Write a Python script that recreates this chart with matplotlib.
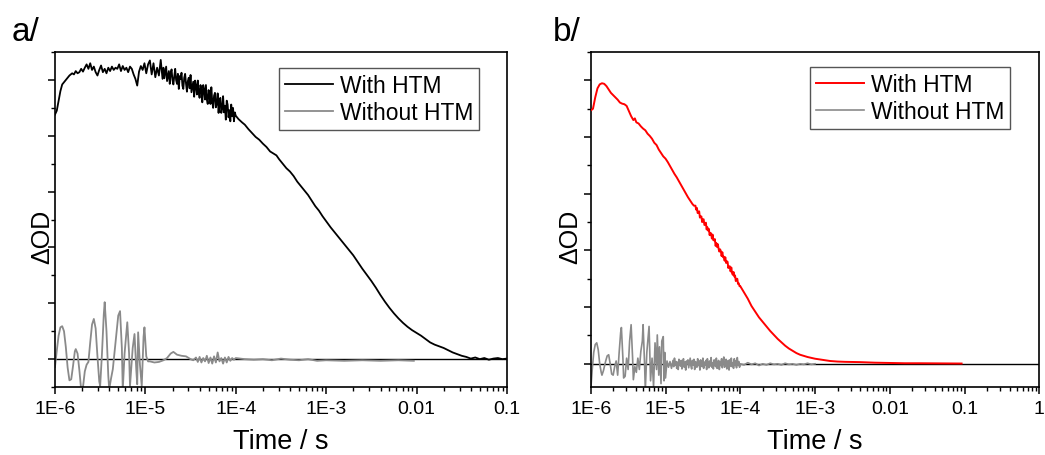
import matplotlib
matplotlib.use("Agg")
import matplotlib.pyplot as plt
from matplotlib.ticker import LogLocator, MultipleLocator, NullFormatter

plt.rcParams['font.family'] = ['Liberation Sans', 'DejaVu Sans']

# ---- panel a: log10(time / s) and dOD (arb. units) ----
a_with_logt = [
    -6.00, -5.98, -5.96, -5.94, -5.92, -5.90, -5.87, -5.84, -5.81, -5.79, -5.77, -5.75, -5.73, -5.71,
    -5.69, -5.67, -5.65, -5.63, -5.61, -5.59, -5.57, -5.55, -5.53, -5.51, -5.49, -5.47, -5.45, -5.43,
    -5.41, -5.39, -5.37, -5.35, -5.33, -5.31, -5.29, -5.27, -5.25, -5.23, -5.21, -5.19, -5.17, -5.15,
    -5.13, -5.11, -5.09, -5.07, -5.05, -5.03, -5.01, -4.99, -4.97, -4.95, -4.93, -4.91, -4.89, -4.87,
    -4.85, -4.83, -4.81,
    -4.80, -4.79, -4.78, -4.77, -4.76, -4.75, -4.74, -4.73, -4.72, -4.71, -4.70, -4.69, -4.68, -4.67,
    -4.66, -4.65, -4.64, -4.63, -4.62, -4.61, -4.60, -4.59, -4.58, -4.57, -4.56, -4.55, -4.54, -4.53,
    -4.52, -4.51, -4.50, -4.49, -4.48, -4.47, -4.46, -4.45, -4.44, -4.43, -4.42, -4.41, -4.40, -4.39,
    -4.38, -4.37, -4.36, -4.35, -4.34, -4.33, -4.32, -4.31, -4.30, -4.29, -4.28, -4.27, -4.26, -4.25,
    -4.24, -4.23, -4.22, -4.21, -4.20, -4.19, -4.18, -4.17, -4.16, -4.15, -4.14, -4.13, -4.12, -4.11,
    -4.10, -4.09, -4.08, -4.07, -4.06, -4.05, -4.04, -4.03, -4.02, -4.01, -4.00,
    -3.97, -3.93, -3.90, -3.86, -3.82, -3.78, -3.74, -3.70, -3.66, -3.62, -3.58, -3.55, -3.52, -3.48,
    -3.44, -3.40, -3.36, -3.32, -3.28, -3.24, -3.20, -3.16, -3.12, -3.08, -3.04, -3.00, -2.95, -2.90,
    -2.85, -2.80, -2.75, -2.70, -2.65, -2.60, -2.55, -2.50, -2.45, -2.40, -2.35, -2.30, -2.25, -2.20,
    -2.15, -2.10, -2.05, -2.00, -1.95, -1.90, -1.85, -1.80, -1.75, -1.70, -1.65, -1.60, -1.55, -1.50,
    -1.45, -1.40, -1.35, -1.30, -1.25, -1.20, -1.15, -1.10, -1.05, -1.00,
]
a_with_val = [
    4.38, 4.45, 4.62, 4.80, 4.92, 4.96, 5.02, 5.08, 5.12, 5.10, 5.16, 5.12, 5.14, 5.20,
    5.15, 5.22, 5.28, 5.20, 5.30, 5.18, 5.24, 5.14, 5.08, 5.18, 5.26, 5.14, 5.20, 5.12,
    5.22, 5.16, 5.24, 5.18, 5.22, 5.20, 5.28, 5.16, 5.25, 5.18, 5.22, 5.14, 5.24, 5.20,
    5.10, 5.02, 4.90, 5.15, 5.25, 5.18, 5.30, 5.12, 5.28, 5.35, 5.10, 5.30, 5.05, 5.22,
    5.08, 5.36, 5.02,
    5.22, 5.03, 5.14, 5.24, 4.98, 5.07, 5.16, 4.93, 5.12, 5.19, 5.00, 4.92, 5.07, 5.20,
    5.00, 4.93, 5.11, 4.84, 5.07, 5.02, 5.13, 4.90, 4.84, 5.04, 5.11, 4.93, 4.79, 4.98,
    5.04, 4.85, 5.09, 4.78, 4.88, 4.97, 4.70, 4.99, 4.89, 4.74, 4.99, 4.78, 4.68, 4.91,
    4.82, 4.60, 4.91, 4.83, 4.65, 4.91, 4.65, 4.57, 4.82, 4.71, 4.57, 4.87, 4.61, 4.50,
    4.72, 4.77, 4.51, 4.58, 4.76, 4.41, 4.65, 4.68, 4.41, 4.49, 4.71, 4.42, 4.54, 4.29,
    4.63, 4.56, 4.33, 4.46, 4.26, 4.56, 4.35, 4.50, 4.26, 4.42, 4.36,
    4.30, 4.24, 4.20, 4.12, 4.05, 3.98, 3.93, 3.86, 3.80, 3.72, 3.68, 3.65, 3.58, 3.50,
    3.42, 3.36, 3.28, 3.18, 3.10, 3.02, 2.94, 2.84, 2.74, 2.66, 2.56, 2.47, 2.36, 2.26,
    2.16, 2.06, 1.96, 1.86, 1.74, 1.62, 1.51, 1.40, 1.28, 1.15, 1.03, 0.92, 0.82, 0.73,
    0.65, 0.58, 0.52, 0.47, 0.42, 0.36, 0.30, 0.26, 0.23, 0.20, 0.16, 0.12, 0.09, 0.06,
    0.04, 0.01, 0.03, 0.00, 0.02, -0.01, 0.01, 0.02, 0.00, 0.01,
]

a_without_logt = [
    -6.00, -5.98, -5.96, -5.94, -5.92, -5.90, -5.88, -5.86, -5.84, -5.82, -5.80, -5.78, -5.77, -5.75,
    -5.73, -5.71, -5.69, -5.67, -5.65, -5.63, -5.61, -5.59, -5.57, -5.55, -5.53, -5.51, -5.50, -5.48,
    -5.46, -5.45, -5.43, -5.41, -5.40, -5.38, -5.36, -5.33, -5.30, -5.28, -5.26, -5.25, -5.23, -5.20,
    -5.18, -5.17, -5.14, -5.12, -5.10, -5.09, -5.08, -5.06, -5.04, -5.02, -5.01, -4.99, -4.97,
    -4.95, -4.90, -4.85, -4.80, -4.76, -4.72, -4.69, -4.65, -4.60, -4.55, -4.50, -4.47, -4.44, -4.42,
    -4.40, -4.38, -4.36, -4.34, -4.32, -4.30, -4.28, -4.26, -4.24, -4.22, -4.20, -4.18, -4.16, -4.14,
    -4.12, -4.10, -4.08, -4.06, -4.04, -4.02, -4.00, -3.90, -3.80, -3.70, -3.60, -3.50, -3.40, -3.30,
    -3.20, -3.10, -3.00, -2.80, -2.60, -2.40, -2.20, -2.03,
]
a_without_val = [
    -0.14, 0.15, 0.42, 0.57, 0.59, 0.50, 0.22, -0.15, -0.38, -0.36, -0.12, 0.14, 0.18, 0.10,
    -0.20, -0.55, -0.50, -0.22, -0.10, -0.05, 0.30, 0.62, 0.72, 0.55, 0.05, -0.40, -0.48, 0.10,
    0.80, 1.02, 0.50, -0.30, -0.54, -0.35, -0.18, 0.30, 0.78, 0.86, 0.20, -0.55, 0.10, 0.66,
    0.10, -0.48, 0.20, 0.45, -0.20, -0.45, 0.48, -0.10, -0.48, 0.40, 0.57, 0.05, -0.04,
    -0.04, -0.06, -0.05, -0.02, 0.02, 0.10, 0.13, 0.08, 0.06, 0.05, 0.00, -0.02, 0.03, -0.05,
    0.04, -0.06, 0.02, -0.04, 0.06, -0.07, 0.03, -0.08, 0.05, -0.06, 0.12, -0.04, 0.02, -0.08,
    0.03, -0.06, 0.04, -0.03, 0.02, -0.01, 0.02, 0.00, -0.01, 0.00, -0.02, 0.01, -0.01, -0.02,
    0.00, -0.03, -0.02, -0.03, -0.02, -0.03, -0.02, -0.03,
]

# ---- panel b ----
b_with_logt = [
    -6.00, -5.97, -5.94, -5.91, -5.88, -5.85, -5.82, -5.79, -5.76, -5.73, -5.70, -5.67, -5.64, -5.61,
    -5.58, -5.55, -5.52, -5.49, -5.46, -5.43, -5.41, -5.39, -5.36, -5.33, -5.30, -5.27, -5.24, -5.21,
    -5.18, -5.15, -5.12, -5.09, -5.06, -5.03, -5.00, -4.97, -4.94, -4.91, -4.88, -4.85, -4.82, -4.79,
    -4.76, -4.73, -4.70, -4.67, -4.64, -4.62,
    -4.60, -4.59, -4.58, -4.57, -4.56, -4.55, -4.54, -4.53, -4.52, -4.51, -4.50, -4.49, -4.48, -4.47,
    -4.46, -4.45, -4.44, -4.43, -4.42, -4.41, -4.40, -4.39, -4.38, -4.37, -4.36, -4.35, -4.34, -4.33,
    -4.32, -4.31, -4.30, -4.29, -4.28, -4.27, -4.26, -4.25, -4.24, -4.23, -4.22, -4.21, -4.20, -4.19,
    -4.18, -4.17, -4.16, -4.15, -4.14, -4.13, -4.12, -4.11, -4.10, -4.09, -4.08, -4.07, -4.06, -4.05,
    -4.04, -4.03, -4.02, -4.01, -4.00,
    -3.95, -3.90, -3.85, -3.80, -3.75, -3.70, -3.65, -3.60, -3.55, -3.50, -3.45, -3.40, -3.35, -3.30,
    -3.25, -3.20, -3.10, -3.00, -2.90, -2.80, -2.70, -2.60, -2.40, -2.20, -2.00, -1.80, -1.60, -1.40,
    -1.20, -1.04,
]
b_with_val = [
    4.47, 4.50, 4.70, 4.86, 4.93, 4.95, 4.94, 4.90, 4.84, 4.78, 4.74, 4.70, 4.66, 4.61,
    4.59, 4.58, 4.55, 4.46, 4.37, 4.30, 4.33, 4.26, 4.24, 4.19, 4.15, 4.12, 4.06, 4.02,
    3.97, 3.90, 3.86, 3.78, 3.72, 3.66, 3.62, 3.56, 3.49, 3.42, 3.35, 3.29, 3.22, 3.15,
    3.08, 3.01, 2.94, 2.88, 2.82, 2.79,
    2.79, 2.72, 2.75, 2.66, 2.68, 2.69, 2.58, 2.60, 2.60, 2.50, 2.55, 2.55, 2.45, 2.45,
    2.49, 2.37, 2.41, 2.35, 2.38, 2.27, 2.31, 2.30, 2.21, 2.28, 2.18, 2.18, 2.20, 2.08,
    2.13, 2.06, 2.11, 2.03, 1.98, 2.02, 1.99, 1.90, 1.97, 1.88, 1.89, 1.82, 1.88, 1.78,
    1.81, 1.80, 1.69, 1.72, 1.72, 1.63, 1.70, 1.60, 1.57, 1.62, 1.54, 1.56, 1.46, 1.50,
    1.50, 1.41, 1.42, 1.37, 1.37,
    1.26, 1.15, 1.02, 0.92, 0.82, 0.74, 0.66, 0.58, 0.51, 0.44, 0.38, 0.32, 0.27, 0.23,
    0.19, 0.16, 0.12, 0.09, 0.07, 0.05, 0.04, 0.035, 0.03, 0.02, 0.015, 0.01, 0.01, 0.008,
    0.005, 0.005,
]

b_without_logt = [
    -6.00, -5.98, -5.96, -5.94, -5.92, -5.90, -5.88, -5.86, -5.85, -5.83, -5.80, -5.78, -5.76, -5.74,
    -5.72, -5.70, -5.68, -5.66, -5.64, -5.62, -5.60, -5.59, -5.57, -5.56, -5.54, -5.52, -5.50, -5.48,
    -5.46, -5.44, -5.43, -5.41, -5.39, -5.37, -5.35, -5.33, -5.31, -5.30, -5.28, -5.27, -5.25, -5.23,
    -5.22, -5.20, -5.18, -5.16, -5.14, -5.12, -5.11, -5.09, -5.08, -5.06, -5.05, -5.03, -5.02, -5.01,
    -5.00, -4.98, -4.96, -4.94, -4.92,
    -4.90, -4.89, -4.88, -4.87, -4.86, -4.85, -4.84, -4.83, -4.82, -4.81, -4.80, -4.79, -4.78, -4.77,
    -4.76, -4.75, -4.74, -4.73, -4.72, -4.71, -4.70, -4.69, -4.68, -4.67, -4.66, -4.65, -4.64, -4.63,
    -4.62, -4.61, -4.60, -4.59, -4.58, -4.57, -4.56, -4.55, -4.54, -4.53, -4.52, -4.51, -4.50, -4.49,
    -4.48, -4.47, -4.46, -4.45, -4.44, -4.43, -4.42, -4.41, -4.40, -4.39, -4.38, -4.37, -4.36, -4.35,
    -4.34, -4.33, -4.32, -4.31, -4.30, -4.29, -4.28, -4.27, -4.26, -4.25, -4.24, -4.23, -4.22, -4.21,
    -4.20, -4.19, -4.18, -4.17, -4.16, -4.15, -4.14, -4.13, -4.12, -4.11, -4.10, -4.09, -4.08, -4.07,
    -4.06, -4.05, -4.04, -4.03, -4.02, -4.01, -4.00,
    -3.95, -3.90, -3.85, -3.80, -3.75, -3.70, -3.65, -3.60, -3.55, -3.50, -3.45, -3.40, -3.35, -3.30,
    -3.25, -3.20, -3.15, -3.10, -3.05, -3.00,
]
b_without_val = [
    -0.46, -0.10, 0.20, 0.34, 0.37, 0.25, 0.00, -0.15, -0.20, -0.12, 0.05, 0.14, 0.16, 0.00,
    -0.18, -0.20, -0.05, 0.05, -0.20, 0.20, 0.55, 0.64, 0.10, -0.25, -0.22, 0.10, -0.10, 0.40,
    0.69, 0.10, -0.28, -0.05, -0.15, 0.10, -0.10, 0.22, 0.40, 0.69, 0.00, -0.46, 0.20, 0.50,
    0.66, -0.30, 0.10, -0.40, 0.37, -0.10, 0.51, -0.20, 0.30, -0.35, 0.40, 0.48, -0.30, 0.20,
    -0.25, 0.05, -0.06, 0.04, -0.08,
    0.06, -0.05, 0.10, -0.02, 0.04, -0.08, 0.03, -0.10, 0.08, 0.01, -0.04, 0.06, -0.09, 0.02,
    0.09, -0.06, 0.03, -0.11, 0.05, 0.00, 0.07, -0.07, 0.02, 0.10, -0.04, -0.09, 0.06, -0.02,
    0.08, -0.10, 0.04, 0.01, -0.06, 0.09, -0.03, 0.05, -0.11, 0.07, 0.02, -0.05, 0.10, -0.08,
    0.03, -0.02, 0.06, -0.10, 0.09, 0.00, -0.07, 0.05, -0.04, 0.11, -0.06, 0.02, -0.09, 0.07,
    0.03, -0.05, 0.10, -0.08, 0.01, 0.06, -0.10, 0.04, -0.03, 0.09, -0.07, 0.05, 0.12, -0.06,
    -0.02, 0.08, -0.09, 0.03, 0.06, -0.11, 0.07, -0.04, 0.10, -0.05, 0.02, -0.08, 0.09, -0.03,
    0.05, -0.07, 0.11, -0.02, 0.04, -0.06, 0.00,
    -0.02, 0.02, -0.01, 0.01, -0.03, 0.00, -0.02, 0.01, -0.01, 0.00, -0.02, 0.01, -0.01, 0.00,
    -0.02, 0.00, -0.01, 0.01, -0.01, 0.00,
]

legend_labels = ["With HTM", "Without HTM"]
gray = "#8a8a8a"


def setup_axis(ax, xmax, ylo, yhi, tick_labels, ylabel_x):
    ax.set_xscale("log")
    ax.set_xlim(1e-6, xmax)
    ax.set_ylim(ylo, yhi)
    ax.axhline(0, color="black", lw=1.0, zorder=1)
    ax.xaxis.set_minor_locator(LogLocator(base=10, subs=range(2, 10), numticks=20))
    ax.xaxis.set_minor_formatter(NullFormatter())
    ax.set_xticks([10.0 ** k for k in range(-6, -6 + len(tick_labels))])
    ax.set_xticklabels(tick_labels)
    ax.yaxis.set_major_locator(MultipleLocator(1))
    ax.yaxis.set_minor_locator(MultipleLocator(0.5))
    ax.set_yticklabels([])
    ax.tick_params(which="major", direction="out", length=5, width=1.1, labelsize=14,
                   right=False, top=False, pad=4)
    ax.tick_params(which="minor", direction="out", length=3, width=1.0, right=False, top=False)
    for s in ax.spines.values():
        s.set_linewidth(1.2)
    ax.set_xlabel("Time / s", fontsize=19.5, labelpad=8)
    ax.set_ylabel("\u0394OD", fontsize=18)
    ax.yaxis.set_label_coords(ylabel_x, 0.45)


fig = plt.figure(figsize=(10.45, 4.56), dpi=100)
ax_a = fig.add_axes([0.0526, 0.149, 0.4325, 0.7346])
ax_b = fig.add_axes([0.5653, 0.149, 0.4293, 0.7346])

ta = [10.0 ** v for v in a_with_logt]
tna = [10.0 ** v for v in a_without_logt]
ax_a.plot(ta, a_with_val, color="black", lw=1.3, label=legend_labels[0], zorder=3)
ax_a.plot(tna, a_without_val, color=gray, lw=1.3, label=legend_labels[1], zorder=2)
setup_axis(ax_a, 0.1, -0.5, 5.5, ["1E-6", "1E-5", "1E-4", "1E-3", "0.01", "0.1"], -0.001)

tb = [10.0 ** v for v in b_with_logt]
tnb = [10.0 ** v for v in b_without_logt]
ax_b.plot(tb, b_with_val, color="#ff0000", lw=1.4, label=legend_labels[0], zorder=3)
ax_b.plot(tnb, b_without_val, color=gray, lw=1.2, label=legend_labels[1], zorder=2)
setup_axis(ax_b, 1.0, -0.41, 5.5, ["1E-6", "1E-5", "1E-4", "1E-3", "0.01", "0.1", "1"], -0.018)

for ax, anchor in [(ax_a, (0.938, 0.952)), (ax_b, (0.935, 0.956))]:
    leg = ax.legend(loc="upper right", bbox_to_anchor=anchor, fontsize=16.5, fancybox=False,
                    framealpha=1, edgecolor="#555555", handlelength=2.1, handletextpad=0.3,
                    labelspacing=0.2, borderpad=0.25, borderaxespad=0)
    leg.get_frame().set_linewidth(1.0)

fig.text(0.011, 0.91, "a/", fontsize=24)
fig.text(0.529, 0.91, "b/", fontsize=24)

fig.savefig("out.png", dpi=100)
